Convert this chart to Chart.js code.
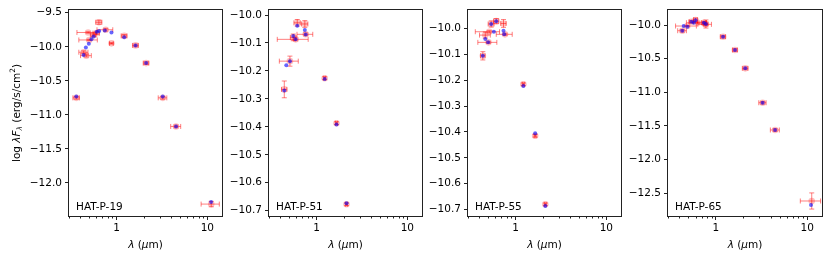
<!DOCTYPE html>
<html>
<head>
<meta charset="utf-8">
<script src="https://cdn.jsdelivr.net/npm/chart.js@4.4.0/dist/chart.umd.min.js"></script>
<style>
  body { margin: 0; background: #fff; }
  #wrap { position: relative; width: 830px; height: 260px; }
  #wrap canvas { position: absolute; top: 0; }
</style>
</head>
<body>
<div id="wrap"></div>
<script>
// star names, one per panel
const starNames = ['HAT-P-19', 'HAT-P-51', 'HAT-P-55', 'HAT-P-65'];

// HAT-P-19: photometry (red) and model (blue)
const obsWave19 = [0.361, 0.435, 0.465, 0.50, 0.487, 0.555, 0.60, 0.64, 0.76, 0.88, 1.215, 1.62, 2.12, 3.23, 4.52, 11.04];
const obsFlux19 = [-10.75, -10.08, -10.13, -9.90, -9.79, -9.83, -9.80, -9.64, -9.75, -9.95, -9.84, -9.98, -10.24, -10.75, -11.17, -12.31];
const obsWaveErr19 = [0.03, 0.05, 0.063, 0.115, 0.12, 0.04, 0.05, 0.05, 0.15, 0.04, 0.09, 0.12, 0.15, 0.35, 0.57, 2.5];
const obsFluxErr19 = [0.02, 0.02, 0.02, 0.01, 0.01, 0.02, 0.02, 0.03, 0.02, 0.01, 0.02, 0.02, 0.02, 0.02, 0.02, 0.04];
const modWave19 = [0.361, 0.434, 0.46, 0.496, 0.53, 0.56, 0.607, 0.645, 0.744, 0.88, 1.215, 1.62, 2.12, 3.23, 4.52, 11.0];
const modFlux19 = [-10.73, -10.12, -10.01, -9.955, -9.89, -9.85, -9.78, -9.77, -9.76, -9.79, -9.86, -9.98, -10.24, -10.73, -11.17, -12.28];

// HAT-P-51
const obsWave51 = [0.614, 0.744, 0.76, 0.555, 0.59, 0.51, 0.442, 1.23, 1.66, 2.14];
const obsFlux51 = [-10.028, -10.032, -10.069, -10.08, -10.087, -10.165, -10.266, -10.226, -10.387, -10.677];
const obsWaveErr51 = [0.05, 0.06, 0.15, 0.04, 0.22, 0.12, 0.03, 0.03, 0.04, 0.05];
const obsFluxErr51 = [0.012, 0.012, 0.005, 0.012, 0.005, 0.018, 0.03, 0.005, 0.005, 0.005];
const modWave51 = [0.614, 0.744, 0.76, 0.555, 0.588, 0.51, 0.465, 0.442, 1.23, 1.66, 2.14];
const modFlux51 = [-10.038, -10.054, -10.07, -10.075, -10.087, -10.165, -10.18, -10.27, -10.229, -10.392, -10.673];

// HAT-P-55
const obsWave55 = [0.614, 0.54, 0.738, 0.767, 0.514, 0.465, 0.504, 0.437, 1.22, 1.646, 2.13];
const obsFlux55 = [-9.972, -9.983, -9.981, -10.023, -10.013, -10.026, -10.054, -10.106, -10.216, -10.415, -10.68];
const obsWaveErr55 = [0.04, 0.04, 0.05, 0.153, 0.153, 0.063, 0.119, 0.025, 0.03, 0.04, 0.05];
const obsFluxErr55 = [0.01, 0.012, 0.015, 0.004, 0.004, 0.012, 0.004, 0.016, 0.005, 0.005, 0.005];
const modWave55 = [0.614, 0.54, 0.738, 0.751, 0.578, 0.465, 0.50, 0.437, 1.22, 1.646, 2.13];
const modFlux55 = [-9.972, -9.983, -10.009, -10.023, -10.013, -10.041, -10.054, -10.106, -10.223, -10.405, -10.686];

// HAT-P-65
const obsWave65 = [0.43, 0.488, 0.54, 0.60, 0.634, 0.74, 0.78, 0.766, 1.2, 1.62, 2.1, 3.25, 4.45, 11.2];
const obsFlux65 = [-10.085, -10.015, -9.951, -9.926, -9.966, -9.966, -9.985, -9.99, -10.174, -10.371, -10.644, -11.155, -11.56, -12.615];
const obsWaveErr65 = [0.047, 0.125, 0.03, 0.03, 0.157, 0.04, 0.04, 0.13, 0.08, 0.1, 0.15, 0.3, 0.5, 2.8];
const obsFluxErr65 = [0.02, 0.01, 0.02, 0.03, 0.01, 0.02, 0.06, 0.01, 0.02, 0.02, 0.02, 0.02, 0.02, 0.12];
const modWave65 = [0.43, 0.445, 0.49, 0.54, 0.575, 0.60, 0.74, 0.78, 1.2, 1.62, 2.1, 3.25, 4.45, 11.0];
const modFlux65 = [-10.085, -10.015, -10.025, -9.951, -9.966, -9.93, -9.966, -9.985, -10.174, -10.371, -10.644, -11.155, -11.56, -12.675];

// axis ranges and ticks
const xMin = 0.3, xMax = 14.5;
const xTicks = [1, 10];
const xMinorTicks = [0.3, 0.4, 0.5, 0.6, 0.7, 0.8, 0.9, 2, 3, 4, 5, 6, 7, 8, 9];
const yLimits = [[-12.485, -9.46], [-10.719, -9.982], [-10.725, -9.929], [-12.838, -9.777]];
const yTicks19 = [-12.0, -11.5, -11.0, -10.5, -10.0, -9.5];
const yTicks51 = [-10.7, -10.6, -10.5, -10.4, -10.3, -10.2, -10.1, -10.0];
const yTicks55 = [-10.7, -10.6, -10.5, -10.4, -10.3, -10.2, -10.1, -10.0];
const yTicks65 = [-12.5, -12.0, -11.5, -11.0, -10.5, -10.0];

const panels = [
  { obs: [obsWave19, obsFlux19, obsWaveErr19, obsFluxErr19], mod: [modWave19, modFlux19], yTicks: yTicks19 },
  { obs: [obsWave51, obsFlux51, obsWaveErr51, obsFluxErr51], mod: [modWave51, modFlux51], yTicks: yTicks51 },
  { obs: [obsWave55, obsFlux55, obsWaveErr55, obsFluxErr55], mod: [modWave55, modFlux55], yTicks: yTicks55 },
  { obs: [obsWave65, obsFlux65, obsWaveErr65, obsFluxErr65], mod: [modWave65, modFlux65], yTicks: yTicks65 },
];

// layout in page pixels
const plotLeft = [69, 269, 468, 668];
const plotRight = [222, 422, 621, 822];
const plotTop = 10, plotBottom = 216, pageH = 260;
const FONT = 'DejaVu Sans';
const FS = 10.5;

function fmtTick(v) {
  return (v < 0 ? '\u2212' : '') + Math.abs(v).toFixed(1);
}

// draw a line of text made of styled pieces, centred on (x, y)
function drawRich(ctx, parts, x, y) {
  const fontFor = (s) => {
    if (s === 'i') return `italic ${FS}px ${FONT}`;
    if (s === 'isub') return `italic ${FS * 0.7}px ${FONT}`;
    if (s === 'sup') return `${FS * 0.7}px ${FONT}`;
    return `${FS}px ${FONT}`;
  };
  const widths = parts.map(p => { ctx.font = fontFor(p[1]); return ctx.measureText(p[0]).width; });
  let cx = x - widths.reduce((a, b) => a + b, 0) / 2;
  ctx.textAlign = 'left';
  ctx.textBaseline = 'middle';
  parts.forEach((p, i) => {
    ctx.font = fontFor(p[1]);
    let dy = 0;
    if (p[1] === 'isub') dy = 3;
    if (p[1] === 'sup') dy = -4;
    ctx.fillText(p[0], cx, y + dy);
    cx += widths[i];
  });
}

// error bars drawn under the markers
const errorBars = {
  id: 'errorBars',
  beforeDatasetsDraw(chart) {
    const ctx = chart.ctx, xs = chart.scales.x, ys = chart.scales.y;
    const cap = 2.5;
    chart.data.datasets.forEach(ds => {
      if (!ds.xErr) return;
      ctx.save();
      ctx.strokeStyle = 'rgba(255,0,0,0.5)';
      ctx.lineWidth = 1;
      ds.data.forEach((p, i) => {
        const px = xs.getPixelForValue(p.x), py = ys.getPixelForValue(p.y);
        const x0 = xs.getPixelForValue(p.x - ds.xErr[i]), x1 = xs.getPixelForValue(p.x + ds.xErr[i]);
        const y0 = ys.getPixelForValue(p.y - ds.yErr[i]), y1 = ys.getPixelForValue(p.y + ds.yErr[i]);
        ctx.beginPath();
        ctx.moveTo(x0, py); ctx.lineTo(x1, py);
        ctx.moveTo(x0, py - cap); ctx.lineTo(x0, py + cap);
        ctx.moveTo(x1, py - cap); ctx.lineTo(x1, py + cap);
        ctx.stroke();
        ctx.beginPath();
        ctx.moveTo(px, y0); ctx.lineTo(px, y1);
        ctx.moveTo(px - cap, y0); ctx.lineTo(px + cap, y0);
        ctx.moveTo(px - cap, y1); ctx.lineTo(px + cap, y1);
        ctx.stroke();
      });
      ctx.restore();
    });
  }
};

// frame, minor ticks, panel name and axis titles
const decorations = {
  id: 'decorations',
  afterDraw(chart, args, opts) {
    const ctx = chart.ctx, a = chart.chartArea, xs = chart.scales.x;
    ctx.save();
    ctx.strokeStyle = '#222';
    ctx.lineWidth = 1;
    ctx.strokeRect(Math.round(a.left) - 0.5, Math.round(a.top) - 0.5, Math.round(a.right - a.left) + 1, Math.round(a.bottom - a.top) + 1);
    ctx.beginPath();
    xMinorTicks.forEach(v => {
      const x = Math.round(xs.getPixelForValue(v)) + 0.5;
      ctx.moveTo(x, a.bottom + 0.5);
      ctx.lineTo(x, a.bottom + 2.5);
    });
    ctx.stroke();

    ctx.fillStyle = '#000';
    ctx.font = `${FS}px ${FONT}`;
    ctx.textAlign = 'left';
    ctx.textBaseline = 'alphabetic';
    ctx.fillText(opts.name, a.left + 7, a.bottom - 6.5);

    drawRich(ctx, [['\u03bb', 'i'], [' (', 'n'], ['\u03bc', 'i'], ['m)', 'n']], (a.left + a.right) / 2, 245);

    if (opts.yTitle) {
      ctx.translate(17, (a.top + a.bottom) / 2);
      ctx.rotate(-Math.PI / 2);
      drawRich(ctx, [['log ', 'n'], ['\u03bbF', 'i'], ['\u03bb', 'isub'], [' (erg/s/cm', 'n'], ['2', 'sup'], [')', 'n']], 0, 0);
    }
    ctx.restore();
  }
};

const wrap = document.getElementById('wrap');

panels.forEach((panel, k) => {
  const yAxisW = k === 0 ? plotLeft[0] : 50;
  const padRight = 5;
  const canvas = document.createElement('canvas');
  const w = yAxisW + (plotRight[k] - plotLeft[k]) + padRight;
  canvas.width = w;
  canvas.height = pageH;
  canvas.style.left = (plotLeft[k] - yAxisW) + 'px';
  canvas.style.width = w + 'px';
  canvas.style.height = pageH + 'px';
  wrap.appendChild(canvas);

  const [ow, of, owe, ofe] = panel.obs;
  const [mw, mf] = panel.mod;

  new Chart(canvas.getContext('2d'), {
    type: 'scatter',
    data: {
      datasets: [
        {
          label: 'model',
          data: mw.map((x, i) => ({ x: x, y: mf[i] })),
          pointRadius: 2,
          pointBackgroundColor: 'rgba(0,0,255,0.6)',
          pointBorderWidth: 0,
          order: 1,
        },
        {
          label: 'observed',
          data: ow.map((x, i) => ({ x: x, y: of[i] })),
          xErr: owe,
          yErr: ofe,
          pointRadius: 3.3,
          pointBackgroundColor: 'rgba(255,0,0,0.25)',
          pointBorderWidth: 0,
          order: 2,
        },
      ],
    },
    options: {
      responsive: false,
      animation: false,
      devicePixelRatio: 1,
      events: [],
      layout: { padding: { top: plotTop, right: padRight, left: 0, bottom: 0 } },
      plugins: {
        legend: { display: false },
        tooltip: { enabled: false },
        decorations: { name: starNames[k], yTitle: k === 0 },
      },
      scales: {
        x: {
          type: 'logarithmic',
          min: xMin,
          max: xMax,
          afterBuildTicks: (s) => { s.ticks = xTicks.map(v => ({ value: v, major: true })); },
          afterFit: (s) => { s.height = pageH - plotBottom; },
          ticks: {
            autoSkip: false,
            maxRotation: 0,
            padding: 2,
            color: '#000',
            font: { family: FONT, size: FS },
            callback: (v) => String(v),
          },
          grid: { drawOnChartArea: false, drawTicks: true, tickLength: 4, color: '#222' },
          border: { display: false },
        },
        y: {
          min: yLimits[k][0],
          max: yLimits[k][1],
          afterBuildTicks: (s) => { s.ticks = panel.yTicks.map(v => ({ value: v })); },
          afterFit: (s) => { s.width = yAxisW; },
          ticks: {
            autoSkip: false,
            padding: 3,
            color: '#000',
            font: { family: FONT, size: FS },
            callback: (v) => fmtTick(v),
          },
          grid: { drawOnChartArea: false, drawTicks: true, tickLength: 4, color: '#222' },
          border: { display: false },
        },
      },
    },
    plugins: [errorBars, decorations],
  });
});
</script>
</body>
</html>
